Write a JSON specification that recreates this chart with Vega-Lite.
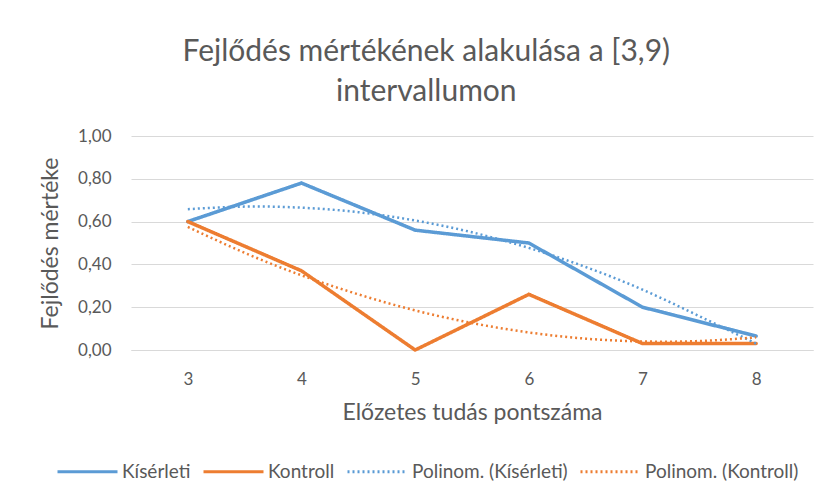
{
  "$schema": "https://vega.github.io/schema/vega-lite/v6.json",
  "width": 682,
  "height": 214,
  "padding": {"left": 39, "top": 37, "right": 18, "bottom": 10},
  "background": "white",
  "title": {
    "text": ["Fejlődés mértékének alakulása a [3,9)", "intervallumon"],
    "fontSize": 30,
    "lineHeight": 40,
    "font": "Lato",
    "fontWeight": "normal",
    "color": "#595959",
    "anchor": "middle",
    "frame": "bounds",
    "offset": 20
  },
  "data": {
    "values": [
      {"x": 3, "y": 0.60, "series": "Kísérleti"},
      {"x": 4, "y": 0.78, "series": "Kísérleti"},
      {"x": 5, "y": 0.56, "series": "Kísérleti"},
      {"x": 6, "y": 0.50, "series": "Kísérleti"},
      {"x": 7, "y": 0.20, "series": "Kísérleti"},
      {"x": 8, "y": 0.065, "series": "Kísérleti"},
      {"x": 3, "y": 0.60, "series": "Kontroll"},
      {"x": 4, "y": 0.37, "series": "Kontroll"},
      {"x": 5, "y": 0.00, "series": "Kontroll"},
      {"x": 6, "y": 0.26, "series": "Kontroll"},
      {"x": 7, "y": 0.03, "series": "Kontroll"},
      {"x": 8, "y": 0.03, "series": "Kontroll"},
      {"x": 3, "y": 0.658, "series": "Polinom. (Kísérleti)"},
      {"x": 3.5, "y": 0.670, "series": "Polinom. (Kísérleti)"},
      {"x": 4, "y": 0.665, "series": "Polinom. (Kísérleti)"},
      {"x": 4.5, "y": 0.644, "series": "Polinom. (Kísérleti)"},
      {"x": 5, "y": 0.605, "series": "Polinom. (Kísérleti)"},
      {"x": 5.5, "y": 0.550, "series": "Polinom. (Kísérleti)"},
      {"x": 6, "y": 0.477, "series": "Polinom. (Kísérleti)"},
      {"x": 6.5, "y": 0.388, "series": "Polinom. (Kísérleti)"},
      {"x": 7, "y": 0.282, "series": "Polinom. (Kísérleti)"},
      {"x": 7.5, "y": 0.158, "series": "Polinom. (Kísérleti)"},
      {"x": 8, "y": 0.030, "series": "Polinom. (Kísérleti)"},
      {"x": 3, "y": 0.575, "series": "Polinom. (Kontroll)"},
      {"x": 3.5, "y": 0.454, "series": "Polinom. (Kontroll)"},
      {"x": 4, "y": 0.349, "series": "Polinom. (Kontroll)"},
      {"x": 4.5, "y": 0.260, "series": "Polinom. (Kontroll)"},
      {"x": 5, "y": 0.185, "series": "Polinom. (Kontroll)"},
      {"x": 5.5, "y": 0.126, "series": "Polinom. (Kontroll)"},
      {"x": 6, "y": 0.082, "series": "Polinom. (Kontroll)"},
      {"x": 6.5, "y": 0.053, "series": "Polinom. (Kontroll)"},
      {"x": 7, "y": 0.040, "series": "Polinom. (Kontroll)"},
      {"x": 7.5, "y": 0.042, "series": "Polinom. (Kontroll)"},
      {"x": 8, "y": 0.059, "series": "Polinom. (Kontroll)"}
    ]
  },
  "encoding": {
    "x": {
      "field": "x",
      "type": "quantitative",
      "scale": {"domain": [2.5, 8.5], "nice": false, "zero": false},
      "axis": {
        "values": [3, 4, 5, 6, 7, 8],
        "title": "Előzetes tudás pontszáma",
        "grid": false,
        "domain": true,
        "domainColor": "#d9d9d9",
        "ticks": false,
        "labelPadding": 21,
        "titlePadding": 14
      }
    },
    "y": {
      "field": "y",
      "type": "quantitative",
      "scale": {"domain": [0, 1], "nice": false},
      "axis": {
        "values": [0, 0.2, 0.4, 0.6, 0.8, 1.0],
        "labelExpr": "replace(format(datum.value, '.2f'), '.', ',')",
        "title": "Fejlődés mértéke",
        "domain": false,
        "ticks": false,
        "grid": true,
        "gridColor": "#d9d9d9",
        "gridWidth": 1,
        "labelPadding": 20,
        "titlePadding": 15
      }
    },
    "color": {
      "field": "series",
      "type": "nominal",
      "scale": {
        "domain": ["Kísérleti", "Kontroll", "Polinom. (Kísérleti)", "Polinom. (Kontroll)"],
        "range": ["#5B9BD5", "#ED7D31", "#5B9BD5", "#ED7D31"]
      },
      "legend": {
        "title": null,
        "orient": "none",
        "legendX": -75,
        "legendY": 304,
        "direction": "horizontal",
        "symbolType": "stroke",
        "symbolSize": 3600,
        "symbolStrokeWidth": 3,
        "labelFontSize": 19,
        "labelFont": "Lato",
        "labelColor": "#595959",
        "labelOffset": 3,
        "columnPadding": 6
      }
    },
    "strokeDash": {
      "field": "series",
      "type": "nominal",
      "scale": {
        "domain": ["Kísérleti", "Kontroll", "Polinom. (Kísérleti)", "Polinom. (Kontroll)"],
        "range": [[1, 0], [1, 0], [2, 3], [2, 3]]
      },
      "legend": {
        "title": null,
        "orient": "none",
        "legendX": -75,
        "legendY": 304,
        "direction": "horizontal",
        "symbolType": "stroke",
        "symbolSize": 3600,
        "symbolStrokeWidth": 3,
        "labelFontSize": 19,
        "labelFont": "Lato",
        "labelColor": "#595959",
        "labelOffset": 3,
        "columnPadding": 6
      }
    }
  },
  "layer": [
    {
      "transform": [{"filter": "indexof(datum.series, 'Polinom') < 0"}],
      "mark": {"type": "line", "strokeWidth": 3.5, "strokeCap": "round", "strokeJoin": "round"}
    },
    {
      "transform": [{"filter": "indexof(datum.series, 'Polinom') >= 0"}],
      "mark": {"type": "line", "strokeWidth": 2.5, "interpolate": "natural", "strokeCap": "butt"}
    }
  ],
  "config": {
    "font": "Lato",
    "view": {"stroke": null},
    "axis": {
      "labelColor": "#595959",
      "titleColor": "#595959",
      "labelFontSize": 17,
      "titleFontSize": 23,
      "titleFontWeight": "normal",
      "labelFont": "Lato",
      "titleFont": "Lato"
    }
  }
}
